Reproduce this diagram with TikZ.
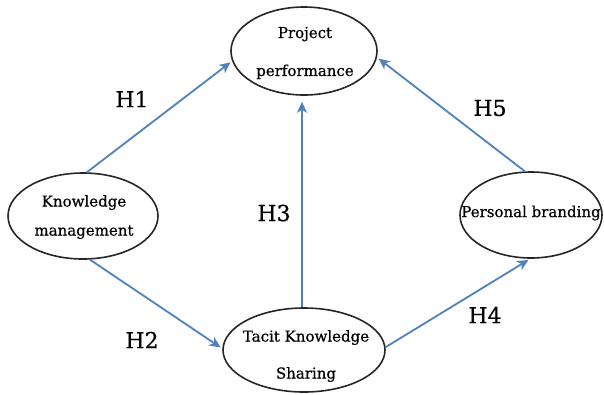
\documentclass[tikz,border=0pt]{standalone}
\usepackage{fontspec}
\setmainfont[FakeBold=0.6]{DejaVu Serif}
\usetikzlibrary{shapes.geometric,arrows.meta}
\definecolor{arrowblue}{RGB}{79,129,189}
\tikzset{
  ell/.style={draw=black!85, line width=1.6pt, ellipse, inner sep=0pt},
  etext/.style={align=center, font=\fontsize{15}{17}\selectfont, inner sep=0pt},
  hlab/.style={font=\fontsize{22}{26}\selectfont, inner sep=0pt},
  conn/.style={draw=arrowblue, line width=1.8pt, shorten >=2pt, -{Stealth[length=11pt,width=10pt,inset=3pt]}}
}
\begin{document}
\begin{tikzpicture}[x=1pt,y=-1pt]
\useasboundingbox (0,0) rectangle (604,394);
\node[ell, minimum width=146pt, minimum height=88pt] (pp) at (304,51) {};
\node[ell, minimum width=150pt, minimum height=86pt] (km) at (83,216) {};
\node[ell, minimum width=162pt, minimum height=84pt] (tks) at (304,350) {};
\node[ell, minimum width=142pt, minimum height=86pt] (pb) at (531,215) {};
\node[etext] (ppt) at (305,53) {Project\\[21pt]performance};
\node[etext] (kmt) at (84,217) {Knowledge\\[12pt]management};
\node[etext] (tkst) at (306,356) {Tacit Knowledge\\[20pt]Sharing};
\node[etext] (pbt) at (531,213) {Personal branding};
\draw[conn] (km.85) -- (pp.188);
\draw[conn] (km.279) -- (tks.179);
\draw[conn, shorten >=6pt] ([xshift=-2pt]tks.north) -- ([xshift=-2pt]pp.south);
\draw[conn] (tks.2) -- (pb.269);
\draw[conn] (pb.98) -- (pp.355);
\node[hlab] (h1) at (132,99) {H1};
\node[hlab] (h2) at (142,340) {H2};
\node[hlab] (h3) at (274,213) {H3};
\node[hlab] (h4) at (485,315) {H4};
\node[hlab] (h5) at (490,108) {H5};
\end{tikzpicture}
\end{document}
